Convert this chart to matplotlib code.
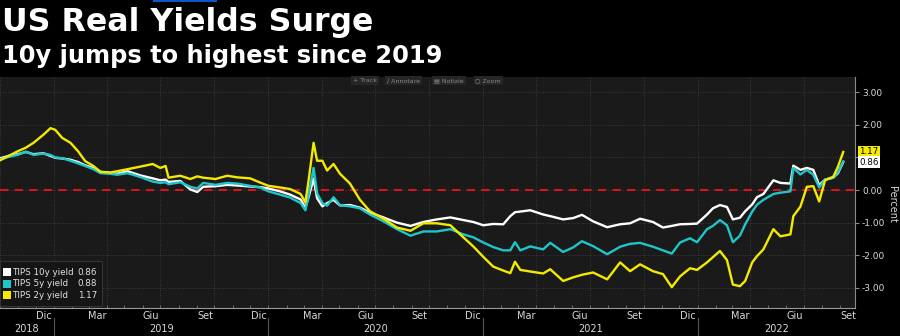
import matplotlib
matplotlib.use("Agg")
import matplotlib.pyplot as plt
import matplotlib.dates as mdates
import matplotlib.transforms as mtransforms
from matplotlib.patches import Rectangle
import pandas as pd

# data (percent)
DATES = ['2018-10-02', '2018-10-16', '2018-10-31', '2018-11-14', '2018-11-27', '2018-12-14',
         '2018-12-26', '2019-01-03', '2019-01-15', '2019-01-29', '2019-02-11', '2019-02-23',
         '2019-03-09', '2019-03-21', '2019-04-07', '2019-04-19', '2019-05-06', '2019-05-28',
         '2019-06-18', '2019-07-01', '2019-07-10', '2019-07-15', '2019-08-04', '2019-08-21',
         '2019-09-02', '2019-09-12', '2019-10-03', '2019-10-23', '2019-11-09', '2019-12-01',
         '2019-12-18', '2020-01-01', '2020-01-21', '2020-02-07', '2020-02-25', '2020-03-04',
         '2020-03-09', '2020-03-18', '2020-03-24', '2020-04-02', '2020-04-10', '2020-04-21',
         '2020-05-02', '2020-05-19', '2020-06-05', '2020-06-22', '2020-07-15', '2020-08-07',
         '2020-08-30', '2020-09-21', '2020-10-14', '2020-11-06', '2020-11-28', '2020-12-15',
         '2021-01-01', '2021-01-18', '2021-02-04', '2021-02-16', '2021-02-24', '2021-03-05',
         '2021-03-22', '2021-04-13', '2021-04-25', '2021-05-17', '2021-06-03', '2021-06-18',
         '2021-07-07', '2021-07-31', '2021-08-22', '2021-09-08', '2021-09-25', '2021-10-17',
         '2021-11-03', '2021-11-18', '2021-12-02', '2021-12-19', '2021-12-31', '2022-01-17',
         '2022-01-27', '2022-02-08', '2022-02-20', '2022-03-02', '2022-03-14', '2022-03-23',
         '2022-04-04', '2022-04-12', '2022-04-23', '2022-05-10', '2022-05-22', '2022-06-08',
         '2022-06-13', '2022-06-25', '2022-07-06', '2022-07-17', '2022-07-27', '2022-08-06',
         '2022-08-20', '2022-08-28', '2022-09-06']

TIPS_10Y = [0.98, 1.05, 1.10, 1.17, 1.10, 1.13, 1.05, 0.99, 0.97, 0.93, 0.86, 0.76,
            0.68, 0.56, 0.52, 0.50, 0.58, 0.45, 0.36, 0.30, 0.32, 0.25, 0.28, 0.02,
            -0.06, 0.10, 0.12, 0.16, 0.14, 0.11, 0.09, 0.05, -0.04, -0.14, -0.29, -0.54,
            -0.25, 0.35, -0.25, -0.50, -0.40, -0.30, -0.47, -0.46, -0.54, -0.69, -0.84, -1.00,
            -1.10, -0.98, -0.90, -0.84, -0.92, -0.98, -1.08, -1.04, -1.05, -0.80, -0.68, -0.66,
            -0.62, -0.75, -0.80, -0.90, -0.86, -0.76, -0.96, -1.14, -1.05, -1.02, -0.88, -0.98,
            -1.15, -1.10, -1.05, -1.04, -1.03, -0.75, -0.56, -0.46, -0.52, -0.90, -0.85, -0.65,
            -0.44, -0.22, -0.12, 0.30, 0.22, 0.20, 0.75, 0.62, 0.68, 0.62, 0.15, 0.32,
            0.38, 0.52, 0.86]

TIPS_5Y = [0.95, 1.02, 1.08, 1.18, 1.08, 1.12, 1.08, 1.00, 0.98, 0.90, 0.82, 0.74,
           0.64, 0.52, 0.50, 0.47, 0.52, 0.40, 0.26, 0.22, 0.24, 0.18, 0.24, 0.10,
           0.05, 0.22, 0.16, 0.22, 0.20, 0.13, 0.08, -0.04, -0.14, -0.23, -0.40, -0.62,
           -0.20, 0.68, -0.10, -0.40, -0.48, -0.22, -0.46, -0.50, -0.56, -0.75, -0.96, -1.20,
           -1.40, -1.27, -1.27, -1.20, -1.36, -1.45, -1.61, -1.75, -1.85, -1.85, -1.60, -1.85,
           -1.73, -1.82, -1.62, -1.90, -1.76, -1.57, -1.72, -1.97, -1.74, -1.65, -1.62, -1.74,
           -1.85, -1.95, -1.61, -1.48, -1.60, -1.20, -1.10, -0.92, -1.08, -1.60, -1.40, -1.05,
           -0.66, -0.45, -0.30, -0.12, -0.08, -0.04, 0.68, 0.48, 0.62, 0.47, 0.08, 0.32,
           0.38, 0.55, 0.88]

TIPS_2Y = [0.92, 1.05, 1.19, 1.30, 1.45, 1.70, 1.90, 1.85, 1.60, 1.45, 1.19, 0.89,
           0.74, 0.56, 0.54, 0.58, 0.64, 0.72, 0.80, 0.68, 0.74, 0.38, 0.44, 0.34,
           0.42, 0.38, 0.34, 0.44, 0.39, 0.36, 0.23, 0.13, 0.08, 0.03, -0.12, -0.38,
           0.23, 1.45, 0.90, 0.90, 0.60, 0.80, 0.50, 0.20, -0.30, -0.65, -0.88, -1.15,
           -1.25, -1.02, -1.02, -1.08, -1.45, -1.73, -2.05, -2.35, -2.47, -2.55, -2.20, -2.45,
           -2.50, -2.56, -2.43, -2.79, -2.68, -2.60, -2.53, -2.74, -2.22, -2.49, -2.28, -2.49,
           -2.58, -2.98, -2.65, -2.40, -2.45, -2.22, -2.06, -1.87, -2.15, -2.90, -2.95, -2.79,
           -2.22, -2.03, -1.82, -1.20, -1.42, -1.36, -0.80, -0.51, 0.10, 0.12, -0.35, 0.30,
           0.41, 0.72, 1.17]

SERIES_NAMES = ['TIPS 10y yield', 'TIPS 5y yield', 'TIPS 2y yield']
LAST_VALUES = ['0.86', '0.88', '1.17']
COLORS = ['#ffffff', '#1fc6c9', '#f4ea00']
MONTH_LABELS = {12: 'Dic', 3: 'Mar', 6: 'Giu', 9: 'Set'}
YEARS = [2018, 2019, 2020, 2021, 2022]
Y_TICKS = [-3, -2, -1, 0, 1, 2, 3]
TOOLBAR = ['+ Track', '\u2215 Annotare', '\u25a4 Notizie', '\u25cb Zoom']

X_START = pd.Timestamp('2018-10-01')
X_END = pd.Timestamp('2022-09-26')

dates = pd.to_datetime(DATES)

fig = plt.figure(figsize=(9, 3.36), dpi=100, facecolor='black')
ax = fig.add_axes([0.0, 0.0833, 0.95, 0.6875])
ax.set_facecolor('#1a1a1a')

for vals, col in zip([TIPS_10Y, TIPS_5Y, TIPS_2Y], COLORS):
    ax.plot(dates, vals, color=col, lw=1.7, zorder=3)

ax.axhline(0, color='#d3161b', lw=1.5, dashes=(4, 3), zorder=2)

ax.set_xlim(X_START, X_END)
ax.set_ylim(-3.62, 3.47)

# dotted grid: quarters on x, whole percents on y
for q in pd.date_range('2018-10-01', X_END, freq='QS'):
    ax.axvline(q, color='#444444', lw=0.6, ls=(0, (1, 2)), zorder=1)
for t in Y_TICKS:
    ax.axhline(t, color='#444444', lw=0.6, ls=(0, (1, 2)), zorder=1)

for side in ['left', 'top']:
    ax.spines[side].set_visible(False)
ax.spines['right'].set_color('#8a8a8a')
ax.spines['bottom'].set_color('#9a9a9a')

# right y axis (the 1.00 label sits under the value tags in the original)
ax.yaxis.tick_right()
ax.set_yticks(Y_TICKS)
ax.set_yticklabels(['' if t == 1 else '%.2f' % t for t in Y_TICKS])
ax.tick_params(axis='y', colors='#8a8a8a', labelcolor='#d8d8d8', labelsize=6.5,
               length=3, width=0.8, pad=2)
ax.text(1.043, 0.45, 'Percent', transform=ax.transAxes, rotation=270, color='#d8d8d8',
        fontsize=7, ha='center', va='center')

# x axis: monthly minor ticks, month/year labels as text
ax.set_xticks([])
ax.xaxis.set_minor_locator(mdates.MonthLocator())
ax.tick_params(axis='x', which='minor', colors='#777777', length=2, width=0.6, direction='in')
trans = mtransforms.blended_transform_factory(ax.transData, ax.transAxes)
for m in pd.date_range(X_START, X_END, freq='MS'):
    if m.month in MONTH_LABELS:
        mid = m + pd.Timedelta(days=14)
        ax.text(mid, -0.035, MONTH_LABELS[m.month], transform=trans, color='#d8d8d8',
                fontsize=7, ha='center', va='center')
for yr in YEARS:
    y0 = max(pd.Timestamp(f'{yr}-01-01'), X_START)
    y1 = min(pd.Timestamp(f'{yr + 1}-01-01'), X_END)
    ax.text(y0 + (y1 - y0) / 2, -0.092, str(yr), transform=trans, color='#d8d8d8',
            fontsize=7, ha='center', va='center')
    if yr > YEARS[0]:
        ax.plot([y0, y0], [-0.045, -0.125], transform=trans, color='#555555', lw=0.8,
                clip_on=False)

# last value tags
tag_trans = mtransforms.blended_transform_factory(ax.transAxes, ax.transData)
for val, col in zip([LAST_VALUES[2], LAST_VALUES[0]], [COLORS[2], COLORS[0]]):
    ax.text(1.005, float(val), val, transform=tag_trans,
            color='black', fontsize=6.3, ha='left', va='center', zorder=6, clip_on=False,
            bbox=dict(boxstyle='square,pad=0.12', facecolor=col, edgecolor='none'))

# legend box drawn by hand so the values line up
ax.add_patch(Rectangle((0.0, 0.008), 0.119, 0.195, transform=ax.transAxes,
                       facecolor='#151515', edgecolor='#333333', lw=0.8, zorder=4))
for i, (name, val, col) in enumerate(zip(SERIES_NAMES, LAST_VALUES, COLORS)):
    yy = 0.155 - i * 0.05
    ax.add_patch(Rectangle((0.004, yy - 0.017), 0.0085, 0.034, transform=ax.transAxes,
                           facecolor=col, edgecolor='none', zorder=5))
    ax.text(0.0135, yy, name, transform=ax.transAxes, color='#e0e0e0', fontsize=6.3,
            ha='left', va='center', zorder=5)
    ax.text(0.091, yy, val, transform=ax.transAxes, color='#e0e0e0', fontsize=6.3,
            ha='left', va='center', zorder=5)

# toolbar strip at the top of the plot
tx = [0.413, 0.453, 0.508, 0.556]
for x, lab in zip(tx, TOOLBAR):
    ax.text(x, 0.985, lab, transform=ax.transAxes, color='#8a8a8a', fontsize=4.5,
            ha='left', va='center', zorder=5,
            bbox=dict(boxstyle='square,pad=0.3', facecolor='#262626', edgecolor='none'))

# headline
fig.text(0.002, 0.932, 'US Real Yields Surge', color='white', fontsize=22.8,
         fontweight='bold', ha='left', va='center')
fig.text(0.002, 0.832, '10y jumps to highest since 2019', color='white', fontsize=17.4,
         fontweight='bold', ha='left', va='center')
fig.patches.append(Rectangle((0.17, 0.993), 0.071, 0.007, transform=fig.transFigure,
                             facecolor='#0a58c8', edgecolor='none'))

fig.savefig('out.png', dpi=100, facecolor='black')
